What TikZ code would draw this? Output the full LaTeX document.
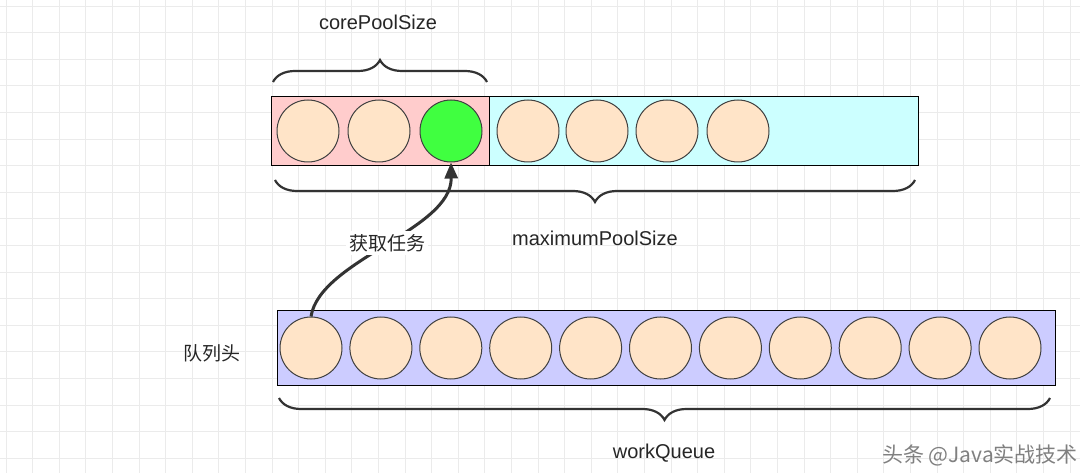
\documentclass[tikz,border=0pt]{standalone}
\usepackage{fontspec}
\setmainfont{Liberation Sans}
\newfontfamily\cjk{Noto Sans CJK SC}
\usetikzlibrary{decorations.pathreplacing,arrows.meta}
\definecolor{pinkf}{RGB}{255,204,204}
\definecolor{cyanf}{RGB}{204,255,255}
\definecolor{bluef}{RGB}{204,204,255}
\definecolor{peach}{RGB}{255,228,200}
\begin{document}
\begin{tikzpicture}[x=1pt,y=-1pt,
  ball/.style={circle,draw=black!75,line width=1pt,fill=peach,minimum size=62pt,inner sep=0pt},
  brc/.style={decorate,decoration={brace,amplitude=22pt,aspect=0.5},line width=2.2pt,draw=black!80},
  lbl/.style={font=\fontsize{20}{24}\selectfont,text=black!85}]
\useasboundingbox (0,0) rectangle (1080,473);
\fill[white] (0,0) rectangle (1080,473);
\foreach \i in {0,...,40} \draw[black!8,line width=0.7pt] ({6+26.6*\i},0) -- ({6+26.6*\i},473);
\foreach \i in {0,...,17} \draw[black!8,line width=0.7pt] (0,{6+26.6*\i}) -- (1080,{6+26.6*\i});
% top
\draw[fill=pinkf,line width=1pt] (271,97) rectangle (489,166);
\draw[fill=cyanf,line width=1pt] (489,97) rectangle (918,166);
\foreach \x/\n in {308/a1,379/a2,528/a4,597/a5,667/a6,738/a7}
  \node[ball] (\n) at (\x,131) {};
\node[ball,fill=green!75] (a3) at (451,131) {};
\draw[brc] (273,82) -- (487,82);
\node[lbl] (cps) at (378,22) {corePoolSize};
\draw[brc] (915,180) -- (275,180);
\node[lbl] (mps) at (595,238) {maximumPoolSize};
% queue
\draw[fill=bluef,line width=1pt] (277,311) rectangle (1055,385);
\foreach \i in {0,...,10}
  \node[ball] (q\i) at ({311+69.9*\i},348) {};
\draw[brc] (1050,398) -- (279,398);
\node[lbl] (wq) at (664,453) {workQueue};
\node[lbl,font=\cjk\fontsize{19}{22}\selectfont] (head) at (212,353) {队列头};
% arrow
\draw[line width=3pt,black!80,-{Triangle[length=16pt,width=13pt]}] (q0.north) .. controls (320,260) and (452,230) .. (a3.south);
\node[lbl,fill=white,font=\cjk\fontsize{19}{22}\selectfont,inner sep=3pt] (get) at (387,243) {获取任务};
\node[font=\cjk\fontsize{21}{24}\selectfont,text=black!50] (wm) at (980,455) {头条 @Java实战技术};
\end{tikzpicture}
\end{document}
